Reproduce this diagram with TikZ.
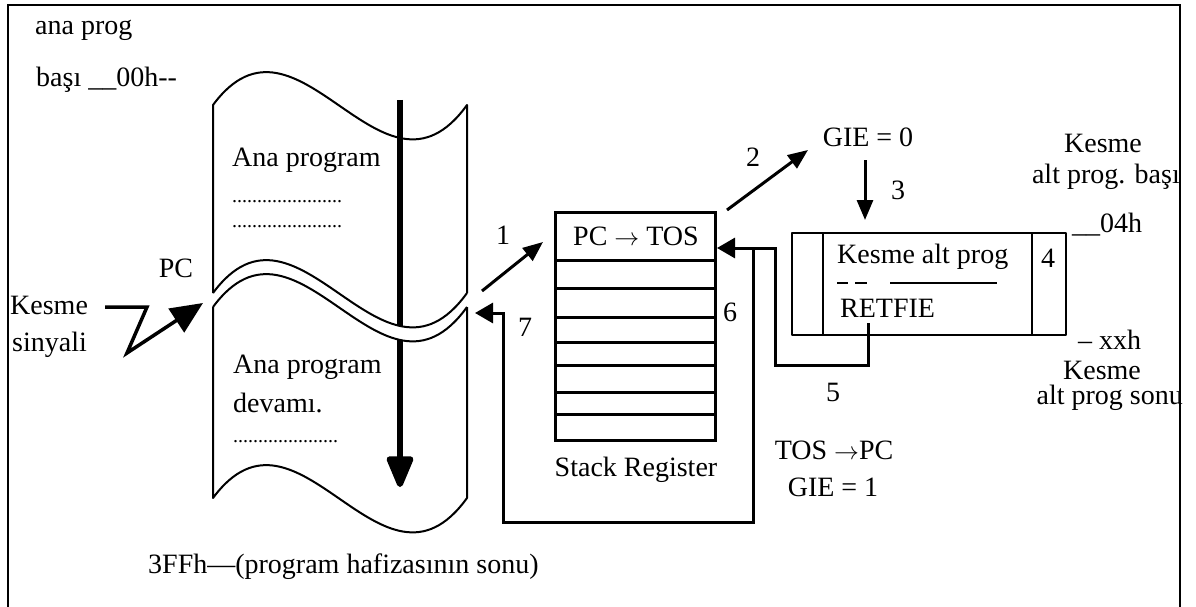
\documentclass[tikz,border=0pt]{standalone}
\usepackage{fontspec}
\setmainfont{Liberation Serif}
\usetikzlibrary{arrows.meta}

\begin{document}
\begin{tikzpicture}[
    x=1pt, y=-1pt,
    lbl/.style={inner sep=0pt, font=\fontsize{28}{30}\selectfont},
    dots/.style={inner sep=0pt, font=\fontsize{20}{20}\selectfont},
    frame/.style={line width=1.8pt},
    sheet/.style={line width=2pt, line join=round},
    cell/.style={line width=3pt},
    flow/.style={line width=3pt, -{Triangle[length=20pt, width=16pt]}},
    back/.style={line width=3pt, -{Triangle[length=18pt, width=20pt]}},
    bolt/.style={line width=3.5pt, line join=miter, -{Triangle[length=32pt, width=28pt]}},
    run/.style={line width=6pt, -{Triangle[length=36pt, width=28pt, round]}},
  ]

  \useasboundingbox (0,0) rectangle (1196,607);

  % ---- outer frame
  \draw[frame] (8,607) -- (8,5) -- (1180,5) -- (1180,607);

  % ---- end points of the connectors
  \coordinate (runtop) at (400,100);
  \coordinate (runend) at (400,487);
  \coordinate (sig)    at (105,307);
  \coordinate (pcin)   at (203,303);
  \coordinate (brk)    at (482,291);
  \coordinate (tosin)  at (543,242);
  \coordinate (gieout) at (727,210);
  \coordinate (giein)  at (808,150);
  \coordinate (subtop) at (865,160);
  \coordinate (subin)  at (865,220);
  \coordinate (retfoot) at (868,323);
  \coordinate (tosback) at (717,248);
  \coordinate (split)  at (753,248);
  \coordinate (pcback) at (475,313);

  % ---- program memory sheet
  \draw[sheet] (213,293) -- (213,105) .. controls (298,-10) and (382,223) .. (467,105) -- (467,293);
  \draw[sheet] (213,307) -- (213,498) .. controls (298,383) and (382,616) .. (467,498) -- (467,307);
  \draw[run] (runtop) -- (runend);
  \fill[white] (213,293) .. controls (298,178) and (382,411) .. (467,293)
    -- (467,307) .. controls (382,425) and (298,192) .. (213,307) -- cycle;
  \foreach \w in {293,307}
    \draw[sheet] (213,\w) .. controls (298,\w-115) and (382,\w+118) .. (467,\w);

  \node[lbl, anchor=west] (main)  at (232,160) {Ana program};
  \node[dots, anchor=base west] (dotsa) at (232,202) {......................};
  \node[dots, anchor=base west] (dotsb) at (232,227) {......................};
  \node[lbl, anchor=west] (cont)  at (233,367) {Ana program};
  \node[lbl, anchor=west] (contb) at (233,403) {devamı.};
  \node[dots, anchor=base west] (dotsc) at (233,442) {.....................};

  % ---- labels round the sheet
  \node[lbl, anchor=west] (anaprog) at (35,30) {ana prog};
  \node[lbl, anchor=west] (basi)    at (36,80) {başı \_\_00h-{}-};
  \node[lbl] (pc) at (176,268) {PC};
  \node[lbl, anchor=west] (kesme)   at (10,305) {Kesme};
  \node[lbl, anchor=west] (sinyali) at (12,345) {sinyali};
  \node[lbl, anchor=west] (memend)  at (148,567) {3FFh—(program hafizasının sonu)};

  % ---- interrupt signal
  \draw[bolt] (sig) -- (147,307) -- (127,353) -- (pcin);

  % ---- stack register
  \node[draw, cell, minimum width=160pt, minimum height=228pt, inner sep=0pt] (stack) at (635,326) {};
  \foreach \r in {260,288,317,342,365,392,414}
    \draw[cell] (555,\r) -- (715,\r);
  \node[lbl] (tos) at (636,236) {PC \(\rightarrow\) TOS};
  \node[lbl] (stackname) at (636,470) {Stack Register};

  % ---- interrupt routine
  \node[draw, sheet, minimum width=274pt, minimum height=102pt, inner sep=0pt] (sub) at (929,284) {};
  \draw[sheet] (823,233) -- (823,335);
  \draw[sheet] (1032,233) -- (1032,335);
  \node[lbl, anchor=west] (subname) at (837,257) {Kesme alt prog};
  \foreach \a/\b in {837/848, 855/867, 890/997}
    \draw[line width=1.2pt] (\a,283) -- (\b,283);
  \node[lbl, anchor=west] (retfie) at (840,308) {RETFIE};
  \node[lbl] (four) at (1048,258) {4};

  \node[lbl] (gie0) at (868,137) {GIE = 0};
  \node[lbl] (subhead) at (1103,143) {Kesme};
  \node[lbl, anchor=east] (subheadb) at (1180,177) {alt prog. başı};
  \node[lbl, anchor=west] (adr04) at (1072,225) {\_\_04h};
  \node[lbl, anchor=west] (adrxx) at (1078,340) {– xxh};
  \node[lbl] (subtail) at (1102,370) {Kesme};
  \node[lbl, anchor=east] (subtailb) at (1183,398) {alt prog sonu};

  \node[lbl] (tospc) at (834,450) {TOS \(\rightarrow\)PC};
  \node[lbl] (gie1) at (833,487) {GIE = 1};

  % ---- the steps
  \draw[flow] (brk) -- (tosin);
  \draw[flow] (gieout) -- (giein);
  \draw[flow] (subtop) -- (subin);
  \draw[back] (retfoot) -- (868,365) -- (775,365) -- (775,248) -- (tosback);
  \draw[back] (split) -- (753,522) -- (503,522) -- (503,313) -- (pcback);

  \node[lbl] (s1) at (503,235) {1};
  \node[lbl] (s2) at (753,157) {2};
  \node[lbl] (s3) at (898,190) {3};
  \node[lbl] (s5) at (833,392) {5};
  \node[lbl] (s6) at (730,312) {6};
  \node[lbl] (s7) at (525,327) {7};

\end{tikzpicture}
\end{document}
